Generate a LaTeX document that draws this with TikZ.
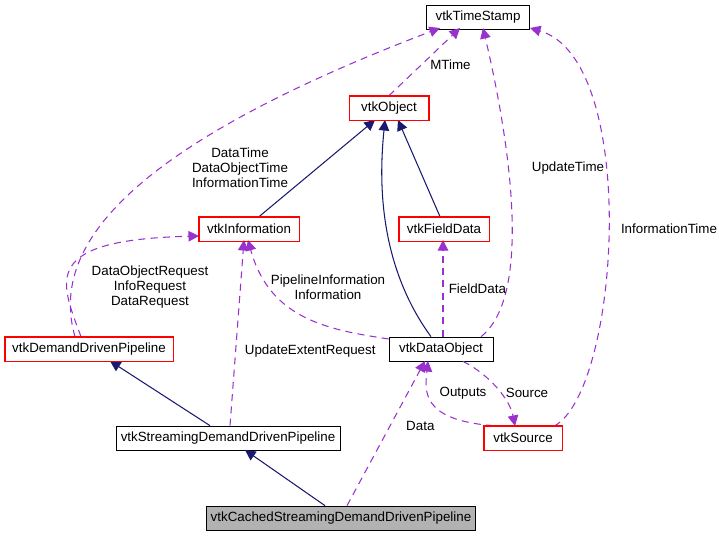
\documentclass[tikz,border=0pt]{standalone}
\usepackage{fontspec}
\setmainfont{Liberation Sans}
\usepackage{tikz}
\usetikzlibrary{arrows.meta}
\definecolor{edgeblue}{RGB}{25,25,112}
\definecolor{edgepurple}{RGB}{153,50,204}
\definecolor{boxred}{RGB}{255,0,0}
\tikzset{
  cls/.style = {rectangle, inner sep = 0pt, minimum height = 24*0.02cm, font = \fontsize{7.6}{8.6}\selectfont},
  inherit/.style = {-{Triangle[length=6pt,width=6pt]}, edgeblue, semithick},
  usage/.style = {-{Triangle[length=6pt,width=6pt]}, edgepurple, semithick, dash pattern = on 4pt off 3pt},
  lbl/.style = {font = \fontsize{7.6}{8.6}\selectfont, align = center, inner sep = 1pt, text = black}
}
\begin{document}
\begin{tikzpicture}[x = .02cm, y = -.02cm]
\useasboundingbox (0,0) rectangle (719,536);
% classes
\node[cls, draw = black, minimum width = 103*0.02cm] (stamp) at (478,17) {vtkTimeStamp};
\node[cls, draw = boxred, minimum width = 79*0.02cm] (object) at (389,108) {vtkObject};
\node[cls, draw = boxred, minimum width = 100*0.02cm] (info) at (249,229) {vtkInformation};
\node[cls, draw = boxred, minimum width = 90*0.02cm] (field) at (444,229) {vtkFieldData};
\node[cls, draw = boxred, minimum width = 168*0.02cm] (ddp) at (89,349) {vtkDemandDrivenPipeline};
\node[cls, draw = black, minimum width = 104*0.02cm] (data) at (441,349) {vtkDataObject};
\node[cls, draw = black, minimum width = 224*0.02cm] (sddp) at (228,438) {vtkStreamingDemandDrivenPipeline};
\node[cls, draw = boxred, minimum width = 78*0.02cm] (source) at (523,438) {vtkSource};
\node[cls, draw = black, fill = gray!60, minimum width = 269*0.02cm] (cached) at (341,518) {vtkCachedStreamingDemandDrivenPipeline};
% inheritance
\draw[inherit] (info.north) ++(10,0) coordinate (i1) -- (375,120);
\draw[inherit] (field.north) ++(-4,0) coordinate (f1) -- (398,120);
\draw[inherit] (data.north) ++(-10,0) coordinate (d1) .. controls (375,260) and (380,170) .. (385,120);
\draw[inherit] (sddp.north) ++(-18,0) coordinate (s1) -- (110,361);
\draw[inherit] (cached.north) ++(-16,0) coordinate (c1) -- (245,450);
% usage
\draw[usage] (object.north) -- node[lbl, right = 4pt, pos = .45] {MTime} (460,28);
\draw[usage] (ddp.north) ++(-14,0) coordinate (p1) .. controls (50,250) and (120,150) .. (440,28);
\node[lbl] (l1) at (240,168) {DataTime\\DataObjectTime\\InformationTime};
\draw[usage] (ddp.north) ++(-8,0) coordinate (p2) .. controls (60,280) and (40,240) .. (199,236);
\node[lbl] (l2) at (150,287) {DataObjectRequest\\InfoRequest\\DataRequest};
\draw[usage] (data.west) ++(0,-10) coordinate (d2) .. controls (330,330) and (270,320) .. (248,240);
\node[lbl] (l3) at (328,287) {PipelineInformation\\Information};
\draw[usage] (data.north) ++(40,0) coordinate (d3) .. controls (540,290) and (500,100) .. (483,28);
\node[lbl] (l4) at (568,168) {UpdateTime};
\draw[usage] (data.north) ++(2,0) coordinate (d4) -- node[lbl, right = 2pt] {FieldData} (443,240);
\draw[usage] (source.east) ++(-8,-12) coordinate (s2) .. controls (620,390) and (640,60) .. (530,28);
\node[lbl] (l5) at (669,229) {InformationTime};
\draw[usage] (source.north) ++(-30,0) coordinate (s3) .. controls (420,420) and (425,390) .. (428,361);
\node[lbl] (l6) at (463,393) {Outputs};
\draw[usage] (data.south) ++(22,0) coordinate (d5) .. controls (490,375) and (510,400) .. (515,426);
\node[lbl] (l7) at (527,393) {Source};
\draw[usage] (sddp.north) ++(2,0) coordinate (s4) -- node[lbl, right = 4pt, pos = .4] {UpdateExtentRequest} (244,240);
\draw[usage] (cached.north) ++(6,0) coordinate (c2) -- node[lbl, right = 8pt, pos = .55] {Data} (425,361);
% red borders on top
\foreach \n in {object, info, field, ddp, source}
  \draw[boxred] (\n.south west) rectangle (\n.north east);
\end{tikzpicture}
\end{document}
